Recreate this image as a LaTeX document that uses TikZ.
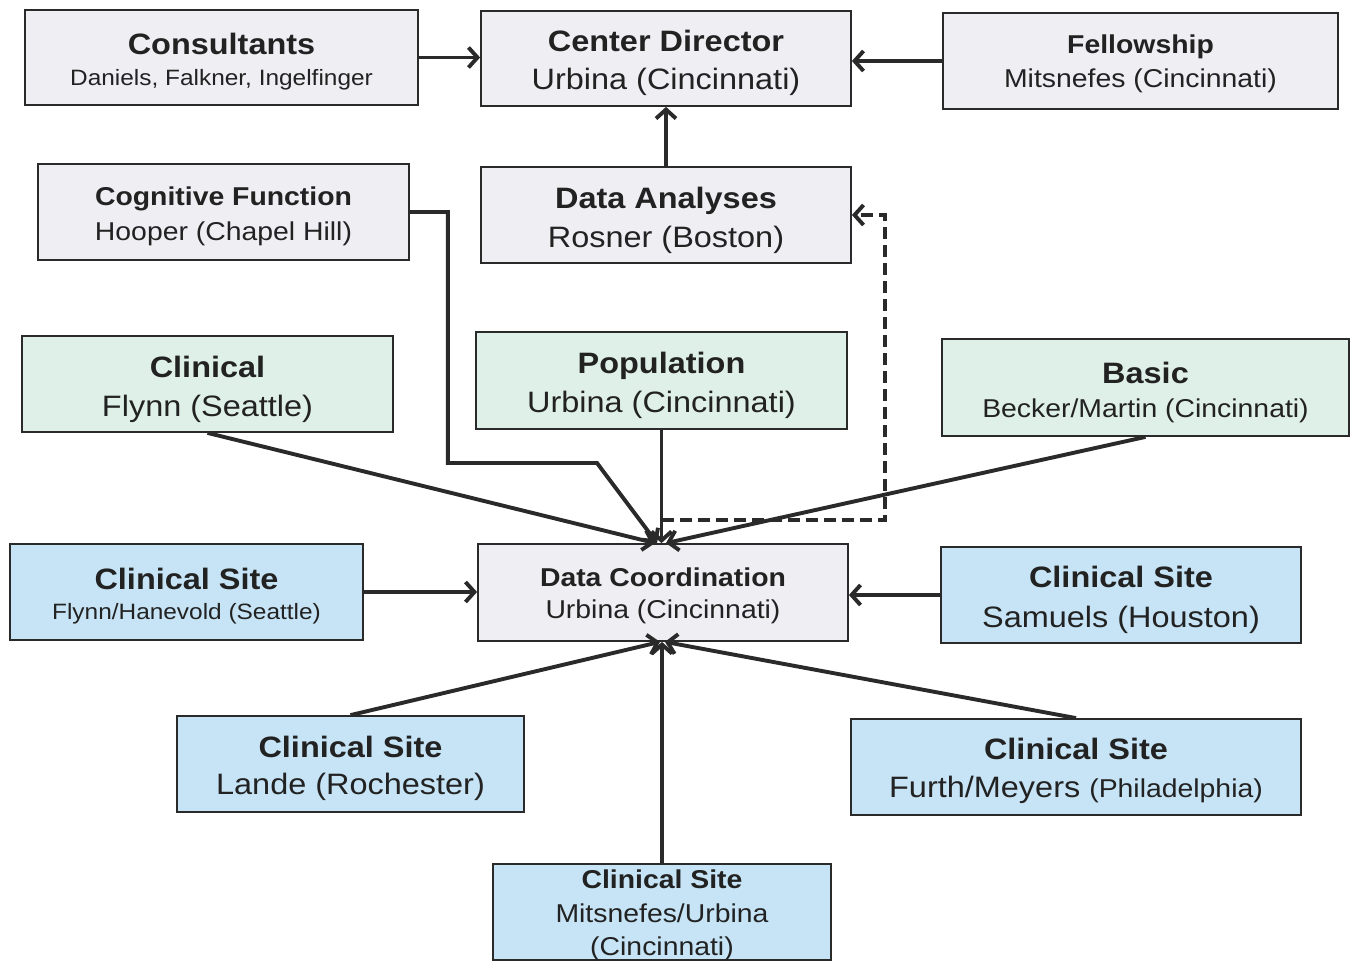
\documentclass[tikz,border=0pt]{standalone}
\usepackage{fontspec}
\setmainfont{Liberation Sans}[FakeStretch=1.1]
\usetikzlibrary{arrows.meta}
\definecolor{gfill}{HTML}{EFEEF3}
\definecolor{mfill}{HTML}{DFF0E9}
\definecolor{bfill}{HTML}{C6E4F5}
\definecolor{linec}{HTML}{2A2A2A}
\definecolor{txtc}{HTML}{222222}
\newcommand\ftL{\fontsize{29.5}{32}\selectfont\bfseries}
\newcommand\ftM{\fontsize{25.8}{28}\selectfont\bfseries}
\newcommand\fsL{\fontsize{29.5}{32}\selectfont}
\newcommand\fsM{\fontsize{25.8}{28}\selectfont}
\newcommand\fsS{\fontsize{22.2}{24}\selectfont}
\tikzset{
  basebox/.style={draw=linec, line width=1.8pt, inner sep=0pt},
  greybox/.style={basebox, fill=gfill},
  mintbox/.style={basebox, fill=mfill},
  bluebox/.style={basebox, fill=bfill},
  txt/.style={anchor=base, inner sep=0pt, text=txtc},
  conn/.style={draw=linec, line width=3.9pt, -{Straight Barb[length=9pt,width=20pt]}},
  dashconn/.style={draw=linec, line width=3.9pt, dash pattern=on 12pt off 6pt, -{Straight Barb[length=9pt,width=20pt]}}
}
\begin{document}
\begin{tikzpicture}[x=1pt,y=-1pt]
\useasboundingbox (0,0) rectangle (1355,963);
% boxes
\node[greybox, minimum width=393, minimum height=95] (cons) at (221.5,57.5) {};
\node[greybox, minimum width=370, minimum height=95] (cdir) at (666,58.5) {};
\node[greybox, minimum width=395, minimum height=96] (fell) at (1140.5,61) {};
\node[greybox, minimum width=371, minimum height=96] (cog) at (223.5,212) {};
\node[greybox, minimum width=370, minimum height=96] (dana) at (666,215) {};
\node[mintbox, minimum width=371, minimum height=96] (clin) at (207.5,384) {};
\node[mintbox, minimum width=371, minimum height=97] (pop) at (661.5,380.5) {};
\node[mintbox, minimum width=407, minimum height=97] (basic) at (1145.5,387.5) {};
\node[bluebox, minimum width=353, minimum height=96] (csfh) at (186.5,592) {};
\node[greybox, minimum width=370, minimum height=97] (dc) at (663,592.5) {};
\node[bluebox, minimum width=360, minimum height=96] (cssam) at (1121,595) {};
\node[bluebox, minimum width=347, minimum height=96] (cslan) at (350.5,764) {};
\node[bluebox, minimum width=450, minimum height=96] (csfur) at (1076,767) {};
\node[bluebox, minimum width=338, minimum height=96] (csmit) at (662,912) {};
% texts
\node[txt] (cons-a) at (221.5,55) {\ftL Consultants};
\node[txt] (cons-b) at (221.5,86) {\fsS Daniels, Falkner, Ingelfinger};
\node[txt] (cdir-a) at (666,52) {\ftL Center Director};
\node[txt] (cdir-b) at (666,90) {\fsL Urbina (Cincinnati)};
\node[txt] (fell-a) at (1140.5,54) {\ftM Fellowship};
\node[txt] (fell-b) at (1140.5,88) {\fsM Mitsnefes (Cincinnati)};
\node[txt] (cog-a) at (223.5,205) {\ftM Cognitive Function};
\node[txt] (cog-b) at (223.5,240) {\fsM Hooper (Chapel Hill)};
\node[txt] (dana-a) at (666,208) {\ftL Data Analyses};
\node[txt] (dana-b) at (666,247) {\fsL Rosner (Boston)};
\node[txt] (clin-a) at (207.5,377) {\ftL Clinical};
\node[txt] (clin-b) at (207.5,416) {\fsL Flynn (Seattle)};
\node[txt] (pop-a) at (661.5,373) {\ftL Population};
\node[txt] (pop-b) at (661.5,412) {\fsL Urbina (Cincinnati)};
\node[txt] (basic-a) at (1145.5,383) {\ftL Basic};
\node[txt] (basic-b) at (1145.5,417) {\fsM Becker/Martin (Cincinnati)};
\node[txt] (csfh-a) at (186.5,589) {\ftL Clinical Site};
\node[txt] (csfh-b) at (186.5,619) {\fsS Flynn/Hanevold (Seattle)};
\node[txt] (dc-a) at (663,586) {\ftM Data Coordination};
\node[txt] (dc-b) at (663,618) {\fsM Urbina (Cincinnati)};
\node[txt] (cssam-a) at (1121,587) {\ftL Clinical Site};
\node[txt] (cssam-b) at (1121,627) {\fsL Samuels (Houston)};
\node[txt] (cslan-a) at (350.5,757) {\ftL Clinical Site};
\node[txt] (cslan-b) at (350.5,794) {\fsL Lande (Rochester)};
\node[txt] (csfur-a) at (1076,759) {\ftL Clinical Site};
\node[txt] (csfur-b) at (1076,797) {\fsL Furth/Meyers \fsM(Philadelphia)};
\node[txt] (csmit-a) at (662,888) {\ftM Clinical Site};
\node[txt] (csmit-b) at (662,922) {\fsM Mitsnefes/Urbina};
\node[txt] (csmit-c) at (662,955) {\fsM (Cincinnati)};
% connectors
\draw[conn] (cons.east) -- (cons.east -| cdir.west);
\draw[conn] (fell.west) -- (fell.west -| cdir.east);
\draw[conn] (dana.north) -- (cdir.south);
\coordinate (cogbend) at (597,463);
\draw[conn] (cog.east) -- ++(38,0) |- (cogbend) -- ([xshift=-6pt]dc.north);
\draw[conn] (clin.south) -- ([xshift=-8pt]dc.north);
\draw[conn] (basic.south) -- ([xshift=3pt]dc.north);
\draw[conn] (pop.south) -- (pop.south |- dc.north);
\coordinate (dj) at (662,520);
\draw[dashconn] (dj) -- ++(223,0) |- (dana.east);
\draw[conn] (csfh.east) -- (csfh.east -| dc.west);
\draw[conn] (cssam.west) -- (cssam.west -| dc.east);
\draw[conn] (cslan.north) -- ([xshift=-3pt]dc.south);
\draw[conn] (csfur.north) -- ([xshift=2pt]dc.south);
\draw[conn] (csmit.north) -- (csmit.north |- dc.south);
\end{tikzpicture}
\end{document}
